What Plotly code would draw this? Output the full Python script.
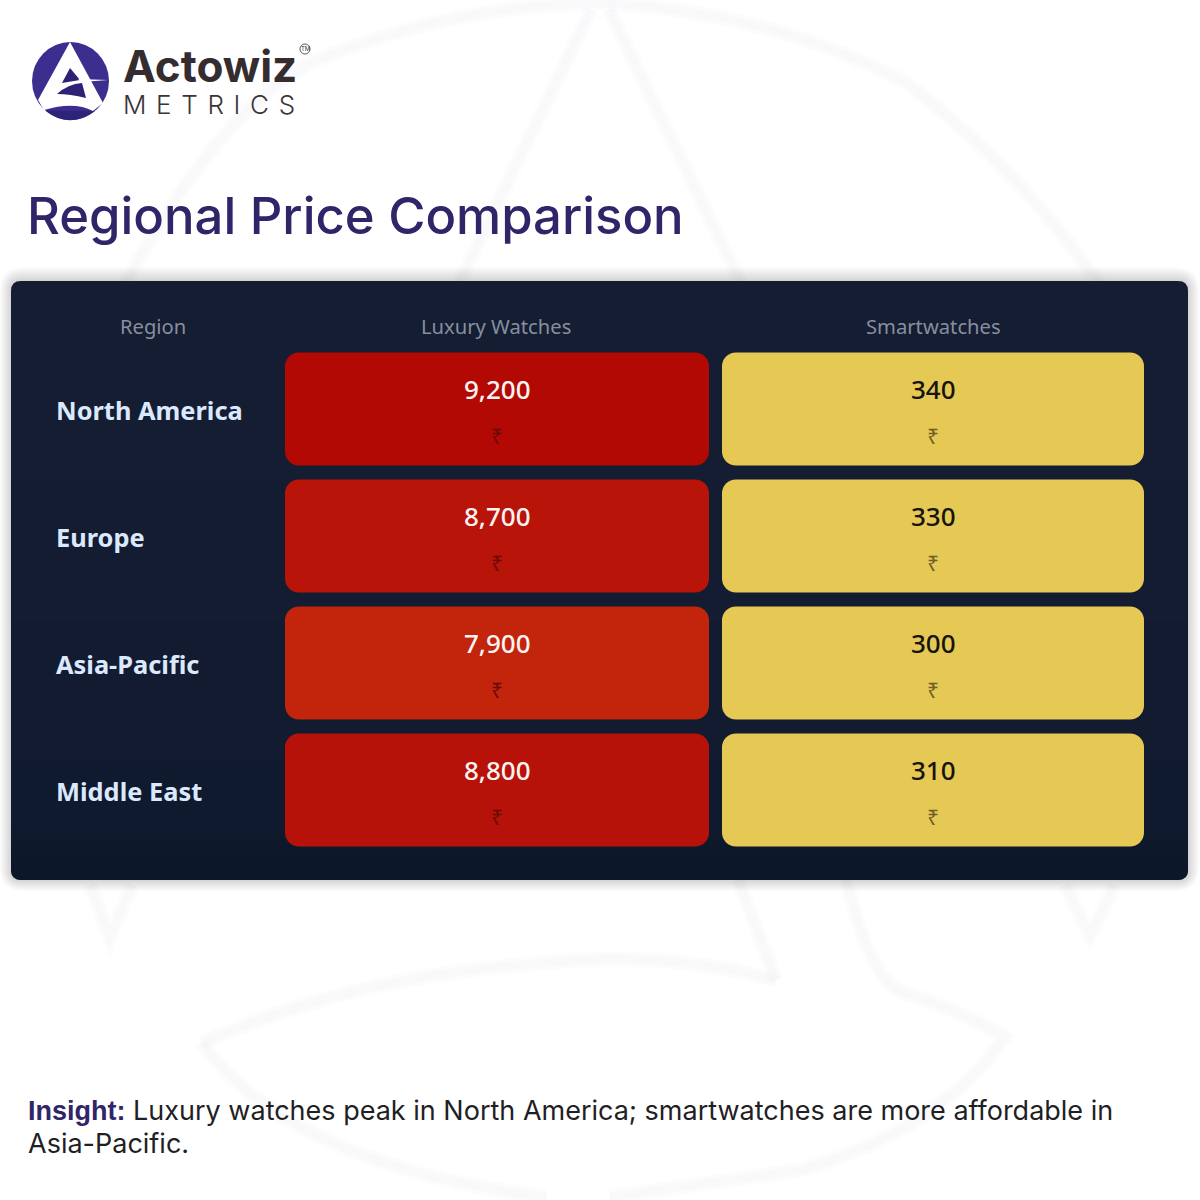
import re
import plotly.graph_objects as go

regions = ["North America", "Europe", "Asia-Pacific", "Middle East"]
luxury = [9200, 8700, 7900, 8800]
smart = [340, 330, 300, 310]
columns = ["Region", "Luxury Watches", "Smartwatches"]
title_text = "Regional Price Comparison"
insight_label = "Insight:"
insight_lines = ["Luxury watches peak in North America; smartwatches are more affordable in", "Asia-Pacific."]

W, H = 1200, 1200
NAVY = "#2f2568"
RED_SCALE = [[0, "#c2240c"], [0.62, "#b8140a"], [1, "#b30904"]]
YELLOW = "#e6c955"


def py(v):
    return 1 - v / H


def px(v):
    return v / W


def rounded(x0, y0, x1, y1, r):
    return (f"M{x0+r},{y0} L{x1-r},{y0} Q{x1},{y0} {x1},{y0+r} L{x1},{y1-r} Q{x1},{y1} {x1-r},{y1} "
            f"L{x0+r},{y1} Q{x0},{y1} {x0},{y1-r} L{x0},{y0+r} Q{x0},{y0} {x0+r},{y0} Z")


def pixel_path(path, **kw):
    # path is written in page pixels, y downwards
    conv = re.sub(r"(-?[\d.]+),(-?[\d.]+)",
                  lambda m: f"{px(float(m[1])):.5f},{py(float(m[2])):.5f}", path)
    return dict(type="path", xref="paper", yref="paper", path=conv, layer="below", **kw)


def pixel_circle(x0, y0, x1, y1, **kw):
    return dict(type="circle", xref="paper", yref="paper", x0=px(x0), y0=py(y0), x1=px(x1), y1=py(y1),
                layer="below", **kw)


fig = go.Figure()

# each cell is two bars back to back from the middle, so all four corners get rounded
for sign in (1, -1):
    fig.add_trace(go.Bar(
        y=regions, x=[sign] * len(regions), orientation="h", width=113 / 127,
        marker=dict(color=luxury, colorscale=RED_SCALE, cmin=min(luxury), cmax=max(luxury),
                    cornerradius=14, line_width=0),
        xaxis="x", yaxis="y", showlegend=False, hoverinfo="skip",
    ))
    fig.add_trace(go.Bar(
        y=regions, x=[sign] * len(regions), orientation="h", width=113 / 127,
        marker=dict(color=YELLOW, cornerradius=14, line_width=0),
        xaxis="x2", yaxis="y", showlegend=False, hoverinfo="skip",
    ))

shapes = []

# watermark behind everything
mark_paths = [
    "M125,285 Q215,115 310,63 Q450,5 598,3 Q767,10 907,83 Q1020,170 1100,285",
    "M591,10 L458,285", "M609,10 L742,285",
    "M738,880 L776,980",
    "M90,885 L110,937 L132,885",
    "M1065,885 L1090,935 L1115,885",
    "M776,980 Q660,950 546,963 Q355,975 202,1043",
    "M202,1043 Q290,1165 546,1197",
    "M846,880 Q870,975 897,990 Q960,1010 1005,1037 Q940,1130 801,1170 L610,1197",
]
for p in mark_paths:
    shapes.append(pixel_path(p, line=dict(color="rgba(238,238,246,0.2)", width=15)))
    shapes.append(pixel_path(p, line=dict(color="rgba(238,238,246,0.25)", width=8)))

# panel shadow and panel
for grow in range(14, 0, -1):
    shapes.append(pixel_path(rounded(11 - grow * 0.8, 281 - grow, 1188 + grow * 0.8, 880 + grow * 0.8, 10 + grow),
                             fillcolor="rgba(0,0,0,0.012)", line_width=0))
shapes.append(pixel_path(rounded(11, 281, 1188, 880, 10), fillcolor="#151d32", line_width=0))
band_stops = [(330, "#141d31"), (480, "#131c30"), (620, "#121b2f"), (760, "#101a2e"),
              (830, "#0f192c"), (845, "#0e182b")]
for top, color in band_stops:
    shapes.append(pixel_path(f"M11,{top} L1188,{top} L1188,868 L11,868 Z", fillcolor=color, line_width=0))
shapes.append(pixel_path(rounded(11, 858, 1188, 880, 10), fillcolor="#0c172a", line_width=0))

# logo
shapes.append(pixel_circle(32, 42, 109, 120, fillcolor="#3b2e8f", line_width=0))
shapes.append(pixel_path("M45,110.5 Q70,130 95,111 Z", fillcolor="#2d2378", line_width=0))
shapes.append(pixel_path("M70,42 L103,103 L93,111 Q74,101 44,110 L38,100 Z", fillcolor="#ffffff", line_width=0))
shapes.append(pixel_path("M70,68 L62,83 L80,80 Z", fillcolor="#2d2275", line_width=0))
shapes.append(pixel_path("M57,94 Q68,84 82,83 L86,98 Q70,94 57,94 Z", fillcolor="#2d2275", line_width=0))
shapes.append(pixel_path("M78,79 L108,80 L82,82 Z", fillcolor="#ffffff", line_width=0))

annotations = []


def pixel_text(x, y, text, size, color, family, anchor="left", weight=None, **kw):
    font = dict(size=size, color=color, family=family)
    if weight:
        font["weight"] = weight
    annotations.append(dict(xref="paper", yref="paper", x=px(x), y=py(y), text=text, showarrow=False,
                            xanchor=anchor, yanchor="middle", font=font, **kw))


pixel_text(121, 66, "Actowiz", 44, "#352c30", "Inter", weight=700)
pixel_text(121, 104, " \u200a".join("METRICS"), 26, "#3a3436", "Inter", weight=300)
pixel_text(305, 49, "TM", 6, "#3a3436", "Inter", anchor="center")
shapes.append(pixel_circle(300, 44, 310, 54, line=dict(color="#3a3436", width=0.8)))

pixel_text(25, 216, title_text, 50.8, NAVY, "Inter", weight=500)

for cx, label in zip((153, 496, 933), columns):
    pixel_text(cx, 325.5, label, 20.2, "#868f9f", "Noto Sans", anchor="center")

CELL_FONT = "Noto Sans"
for i, region in enumerate(regions):
    annotations.append(dict(xref="paper", yref="y", x=px(54), y=i, yshift=-1, text=region, showarrow=False,
                            xanchor="left", yanchor="middle",
                            font=dict(size=25.4, color="#dbe9fe", family=CELL_FONT, weight=700)))
    for axis, vals, color, sym_color in (("x", luxury, "#fdf3f1", "#6e0a06"),
                                         ("x2", smart, "#16140c", "#6f5f25")):
        annotations.append(dict(xref=axis, yref="y", x=0, y=i, yshift=20, text=f"{vals[i]:,}",
                                showarrow=False, font=dict(size=26, color=color, family=CELL_FONT, weight=500)))
        annotations.append(dict(xref=axis, yref="y", x=0, y=i, yshift=-27, text="₹",
                                showarrow=False, font=dict(size=21, color=sym_color, family=CELL_FONT)))

insight_head = f'<b style="color:{NAVY};font-family:Liberation Sans">{insight_label}</b> '
pixel_text(26, 1110.5, insight_head + insight_lines[0], 27, "#1f1f25", "Inter")
pixel_text(26, 1143.5, insight_lines[1], 27, "#1f1f25", "Inter")

fig.update_layout(
    width=W, height=H,
    margin=dict(l=0, r=0, t=0, b=0),
    paper_bgcolor="#ffffff", plot_bgcolor="rgba(0,0,0,0)",
    barmode="relative",
    shapes=shapes, annotations=annotations,
    xaxis=dict(domain=[px(285), px(709)], range=[-1, 1], visible=False, fixedrange=True),
    xaxis2=dict(domain=[px(722), px(1144)], range=[-1, 1], visible=False, fixedrange=True),
    yaxis=dict(domain=[py(853.5), py(345.5)], autorange="reversed", type="category",
               categoryorder="array", categoryarray=regions, visible=False, fixedrange=True),
)

fig.write_html("out.html", config=dict(displayModeBar=False),
               post_script="document.body.style.margin='0';")
